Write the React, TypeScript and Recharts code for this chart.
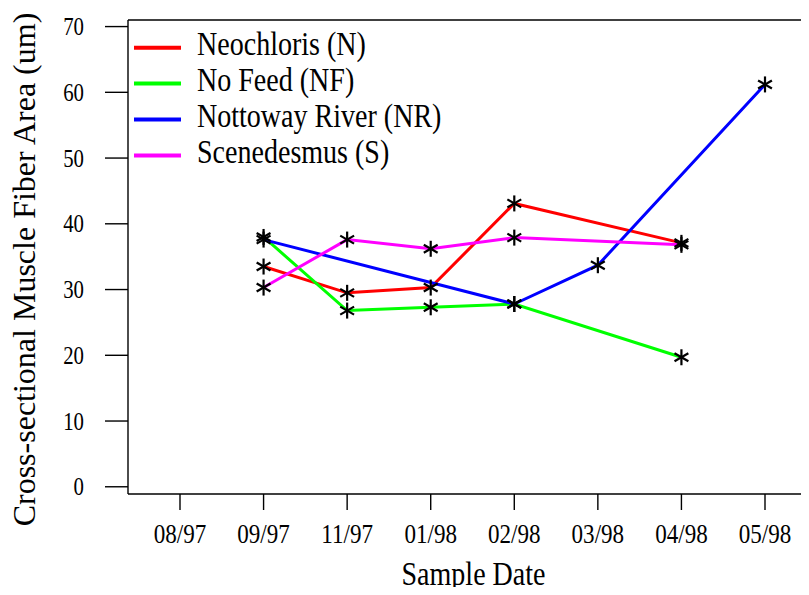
import React from 'react';
import { LineChart, Line, XAxis, YAxis, Legend, Label, ReferenceLine } from 'recharts';

const dates = ['08/97', '09/97', '11/97', '01/98', '02/98', '03/98', '04/98', '05/98'];
const neochloris = [null, 33.5, 29.5, 30.3, 43.1, null, 37.1, null];
const noFeed = [null, 38.0, 26.8, 27.3, 27.8, null, 19.7, null];
const nottoway = [null, 37.6, null, null, 27.8, 33.7, null, 61.2];
const scenedesmus = [null, 30.3, 37.6, 36.2, 37.9, null, 36.8, null];
const yTicks = [0, 10, 20, 30, 40, 50, 60, 70];

const data = dates.map((d, i) => ({
    date: d,
    N: neochloris[i],
    NF: noFeed[i],
    NR: nottoway[i],
    S: scenedesmus[i],
}));

const FONT = "'Liberation Serif', 'Times New Roman', serif";
const SQUEEZE = 0.855;
const Y_MAX = 71.0;

// asterisk marker like R's "*" glyph
const Star = (props: any) => {
    const { cx, cy, index, value } = props;
    if (cx == null || cy == null || value == null) return <g key={`s-${index}`} />;
    const r = 8;
    const dx = r * Math.cos(Math.PI / 6);
    const dy = r * Math.sin(Math.PI / 6);
    return (
        <g key={`s-${index}`} stroke="#000" strokeWidth={2.2}>
            <line x1={cx} y1={cy - r} x2={cx} y2={cy + r} />
            <line x1={cx - dx} y1={cy - dy} x2={cx + dx} y2={cy + dy} />
            <line x1={cx - dx} y1={cy + dy} x2={cx + dx} y2={cy - dy} />
        </g>
    );
};

const XTick = ({ x, y, payload }: any) => (
    <text
        transform={`translate(${x},${y + 31}) scale(${SQUEEZE},1)`}
        textAnchor="middle"
        style={{ fontFamily: FONT }}
        fontSize={27}
        fill="#000"
    >
        {payload.value}
    </text>
);

const YTick = ({ x, y, payload }: any) => (
    <text
        transform={`translate(${x - 19},${y + 8.5}) scale(0.8,1)`}
        textAnchor="end"
        style={{ fontFamily: FONT }}
        fontSize={26}
        fill="#000"
    >
        {payload.value}
    </text>
);

const renderLegend = (props: any) => {
    const { payload } = props;
    return (
        <svg width={480} height={180} style={{ display: 'block' }}>
            {(payload || []).map((item: any, i: number) => {
                const y = 47.7 + i * 35.9;
                return (
                    <g key={item.value}>
                        <line x1={134} x2={181} y1={y} y2={y} stroke={item.color} strokeWidth={4} />
                        <text
                            transform={`translate(197,${y + 7.5}) scale(${SQUEEZE},1)`}
                            style={{ fontFamily: FONT }}
                            fontSize={32.8}
                            fill="#000"
                        >
                            {item.value}
                        </text>
                    </g>
                );
            })}
        </svg>
    );
};

const XTitle = (props: any) => {
    const { viewBox } = props;
    const x = viewBox.x + viewBox.width / 2 + 5;
    return (
        <text
            transform={`translate(${x},${viewBox.y + 91}) scale(${SQUEEZE},1)`}
            textAnchor="middle"
            style={{ fontFamily: FONT }}
            fontSize={32.8}
            fill="#000"
        >
            Sample Date
        </text>
    );
};

const YTitle = () => (
    <text
        transform="translate(35,269.5) rotate(-90)"
        textAnchor="middle"
        style={{ fontFamily: FONT }}
        fontSize={32}
        fill="#000"
    >
        Cross-sectional Muscle Fiber Area (um)
    </text>
);

export default function App() {
    return (
        <div style={{ margin: -8, width: 809, height: 595, background: '#fff' }}>
            <LineChart
                width={809}
                height={595}
                data={data}
                margin={{ top: 20, right: 0, bottom: 0, left: 0 }}
            >
                <XAxis
                    dataKey="date"
                    height={101}
                    padding={{ left: 52, right: 44 }}
                    interval={0}
                    tickSize={16}
                    tick={<XTick />}
                    axisLine={{ stroke: '#000', strokeWidth: 1.4 }}
                    tickLine={{ stroke: '#000', strokeWidth: 1.4 }}
                >
                    <Label content={<XTitle />} />
                </XAxis>
                <YAxis
                    type="number"
                    domain={[-1.1, Y_MAX]}
                    ticks={yTicks}
                    width={128}
                    tickSize={23}
                    tick={<YTick />}
                    axisLine={{ stroke: '#000', strokeWidth: 1.4 }}
                    tickLine={{ stroke: '#000', strokeWidth: 1.4 }}
                >
                    <Label content={<YTitle />} />
                </YAxis>
                <ReferenceLine y={Y_MAX} stroke="#000" strokeWidth={1.4} ifOverflow="visible" />
                <Legend
                    layout="vertical"
                    align="center"
                    verticalAlign="middle"
                    wrapperStyle={{ left: 0, top: 0, width: 480, height: 180 }}
                    content={renderLegend}
                />
                <Line dataKey="N" name="Neochloris (N)" stroke="#ff0000" strokeWidth={3} connectNulls dot={Star} activeDot={false} isAnimationActive={false} />
                <Line dataKey="NF" name="No Feed (NF)" stroke="#00ff00" strokeWidth={3} connectNulls dot={Star} activeDot={false} isAnimationActive={false} />
                <Line dataKey="NR" name="Nottoway River (NR)" stroke="#0000ff" strokeWidth={3} connectNulls dot={Star} activeDot={false} isAnimationActive={false} />
                <Line dataKey="S" name="Scenedesmus (S)" stroke="#ff00ff" strokeWidth={3} connectNulls dot={Star} activeDot={false} isAnimationActive={false} />
            </LineChart>
        </div>
    );
}
